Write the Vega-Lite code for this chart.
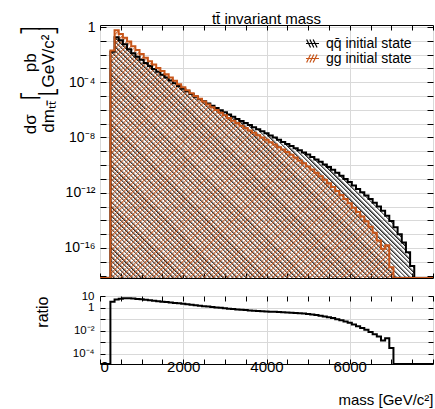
{
"$schema": "https://vega.github.io/schema/vega-lite/v6.json",
"padding": {"left": 20, "top": 11, "right": 0, "bottom": 0},
"datasets": {
"qq": [{"m":0,"v":0},{"m":250,"v":1.6e-2},{"m":350,"v":1.78e-1},{"m":450,"v":1.12e-1},{"m":550,"v":5.6e-2},{"m":650,"v":2.5e-2},{"m":750,"v":1.26e-2},{"m":850,"v":7.1e-3},{"m":950,"v":4.2e-3},{"m":1050,"v":2.5e-3},{"m":1150,"v":1.51e-3},{"m":1250,"v":9.3e-4},{"m":1350,"v":5.75e-4},{"m":1450,"v":3.55e-4},{"m":1550,"v":2.19e-4},{"m":1650,"v":1.35e-4},{"m":1750,"v":8.5e-5},{"m":1850,"v":5.4e-5},{"m":1950,"v":3.4e-5},{"m":2050,"v":2.19e-5},{"m":2150,"v":1.41e-5},{"m":2250,"v":8.9e-6},{"m":2350,"v":6.0e-6},{"m":2450,"v":4.2e-6},{"m":2550,"v":2.9e-6},{"m":2650,"v":2.0e-6},{"m":2750,"v":1.38e-6},{"m":2850,"v":9.5e-7},{"m":2950,"v":6.6e-7},{"m":3050,"v":4.6e-7},{"m":3150,"v":3.2e-7},{"m":3250,"v":2.19e-7},{"m":3350,"v":1.58e-7},{"m":3450,"v":1.12e-7},{"m":3550,"v":7.9e-8},{"m":3650,"v":5.6e-8},{"m":3750,"v":4.0e-8},{"m":3850,"v":2.8e-8},{"m":3950,"v":2.0e-8},{"m":4050,"v":1.41e-8},{"m":4150,"v":1.0e-8},{"m":4250,"v":6.8e-9},{"m":4350,"v":4.7e-9},{"m":4450,"v":3.4e-9},{"m":4550,"v":2.4e-9},{"m":4650,"v":1.7e-9},{"m":4750,"v":1.2e-9},{"m":4850,"v":8.3e-10},{"m":4950,"v":5.8e-10},{"m":5050,"v":3.9e-10},{"m":5150,"v":2.6e-10},{"m":5250,"v":1.74e-10},{"m":5350,"v":1.12e-10},{"m":5450,"v":7.2e-11},{"m":5550,"v":4.6e-11},{"m":5650,"v":2.8e-11},{"m":5750,"v":1.7e-11},{"m":5850,"v":1.0e-11},{"m":5950,"v":5.9e-12},{"m":6050,"v":3.4e-12},{"m":6150,"v":1.9e-12},{"m":6250,"v":1.07e-12},{"m":6350,"v":6.3e-13},{"m":6450,"v":3.5e-13},{"m":6550,"v":1.9e-13},{"m":6650,"v":1.0e-13},{"m":6750,"v":5.0e-14},{"m":6850,"v":2.2e-14},{"m":6950,"v":8.9e-15},{"m":7050,"v":3.2e-15},{"m":7150,"v":1.0e-15},{"m":7250,"v":2.5e-16},{"m":7350,"v":5.0e-17},{"m":7450,"v":5.0e-18},{"m":7550,"v":0},{"m":8000,"v":0}],
"gg": [{"m":0,"v":0},{"m":250,"v":2.0e-2},{"m":350,"v":5.75e-1},{"m":450,"v":3.16e-1},{"m":550,"v":1.7e-1},{"m":650,"v":8.9e-2},{"m":750,"v":4.0e-2},{"m":850,"v":2.14e-2},{"m":950,"v":1.12e-2},{"m":1050,"v":6.0e-3},{"m":1150,"v":3.3e-3},{"m":1250,"v":1.9e-3},{"m":1350,"v":1.1e-3},{"m":1450,"v":6.5e-4},{"m":1550,"v":3.8e-4},{"m":1650,"v":2.19e-4},{"m":1750,"v":1.26e-4},{"m":1850,"v":7.2e-5},{"m":1950,"v":4.3e-5},{"m":2050,"v":2.6e-5},{"m":2150,"v":1.62e-5},{"m":2250,"v":1.0e-5},{"m":2350,"v":6.3e-6},{"m":2450,"v":4.0e-6},{"m":2550,"v":2.5e-6},{"m":2650,"v":1.58e-6},{"m":2750,"v":1.0e-6},{"m":2850,"v":6.3e-7},{"m":2950,"v":4.0e-7},{"m":3050,"v":2.6e-7},{"m":3150,"v":1.66e-7},{"m":3250,"v":1.1e-7},{"m":3350,"v":7.2e-8},{"m":3450,"v":4.8e-8},{"m":3550,"v":3.2e-8},{"m":3650,"v":2.19e-8},{"m":3750,"v":1.48e-8},{"m":3850,"v":1.0e-8},{"m":3950,"v":6.8e-9},{"m":4050,"v":4.6e-9},{"m":4150,"v":3.1e-9},{"m":4250,"v":2.0e-9},{"m":4350,"v":1.35e-9},{"m":4450,"v":8.9e-10},{"m":4550,"v":5.75e-10},{"m":4650,"v":3.6e-10},{"m":4750,"v":2.2e-10},{"m":4850,"v":1.35e-10},{"m":4950,"v":8.1e-11},{"m":5050,"v":4.8e-11},{"m":5150,"v":2.75e-11},{"m":5250,"v":1.55e-11},{"m":5350,"v":8.7e-12},{"m":5450,"v":4.8e-12},{"m":5550,"v":2.6e-12},{"m":5650,"v":1.35e-12},{"m":5750,"v":6.9e-13},{"m":5850,"v":3.5e-13},{"m":5950,"v":1.7e-13},{"m":6050,"v":8.3e-14},{"m":6150,"v":4.0e-14},{"m":6250,"v":1.9e-14},{"m":6350,"v":8.7e-15},{"m":6450,"v":3.5e-15},{"m":6550,"v":1.26e-15},{"m":6650,"v":3.5e-16},{"m":6750,"v":8.9e-17},{"m":6850,"v":1.58e-16},{"m":6950,"v":4.0e-18},{"m":7050,"v":0},{"m":8000,"v":0}],
"ratio": [{"m":0,"r":0},{"m":250,"r":3.3},{"m":350,"r":5.2},{"m":450,"r":6.2},{"m":550,"r":6.6},{"m":650,"r":6.6},{"m":750,"r":6.3},{"m":850,"r":5.9},{"m":950,"r":5.4},{"m":1050,"r":4.9},{"m":1150,"r":4.5},{"m":1250,"r":4.1},{"m":1350,"r":3.7},{"m":1450,"r":3.4},{"m":1550,"r":3.1},{"m":1650,"r":2.9},{"m":1750,"r":2.6},{"m":1850,"r":2.45},{"m":1950,"r":2.24},{"m":2050,"r":2.04},{"m":2150,"r":1.86},{"m":2250,"r":1.66},{"m":2350,"r":1.51},{"m":2450,"r":1.38},{"m":2550,"r":1.26},{"m":2650,"r":1.17},{"m":2750,"r":1.07},{"m":2850,"r":1.0},{"m":2950,"r":0.91},{"m":3050,"r":0.83},{"m":3150,"r":0.78},{"m":3250,"r":0.72},{"m":3350,"r":0.68},{"m":3450,"r":0.63},{"m":3550,"r":0.59},{"m":3650,"r":0.55},{"m":3750,"r":0.52},{"m":3850,"r":0.5},{"m":3950,"r":0.48},{"m":4050,"r":0.46},{"m":4150,"r":0.45},{"m":4250,"r":0.43},{"m":4350,"r":0.41},{"m":4450,"r":0.39},{"m":4550,"r":0.37},{"m":4650,"r":0.35},{"m":4750,"r":0.33},{"m":4850,"r":0.31},{"m":4950,"r":0.28},{"m":5050,"r":0.26},{"m":5150,"r":0.23},{"m":5250,"r":0.2},{"m":5350,"r":0.17},{"m":5450,"r":0.148},{"m":5550,"r":0.126},{"m":5650,"r":0.102},{"m":5750,"r":0.083},{"m":5850,"r":0.065},{"m":5950,"r":0.049},{"m":6050,"r":0.035},{"m":6150,"r":0.025},{"m":6250,"r":0.0174},{"m":6350,"r":0.012},{"m":6450,"r":0.0079},{"m":6550,"r":0.005},{"m":6650,"r":0.0032},{"m":6750,"r":0.0014},{"m":6850,"r":0.0022},{"m":6950,"r":0.00032},{"m":7050,"r":0},{"m":8000,"r":0}]
},
"spacing": 18,
"bounds": "flush",
"vconcat": [
{
"width": 333, "height": 253,
"title": {"text": "tt\u0304 invariant mass", "anchor": "middle", "frame": "group", "offset": -7, "fontSize": 15},
"layer": [
{"data": {"name": "qq"},
 "mark": {"type": "area", "interpolate": "step-after", "clip": true,
   "fill": {"gradient": "linear", "x1": 0, "y1": 1, "x2": 0.3833, "y2": 0.723, "stops": [
{"offset":0,"color":"#2220"},{"offset":0,"color":"#222"},{"offset":0.0156,"color":"#2220"},
{"offset":0.0234,"color":"#2220"},{"offset":0.0234,"color":"#222"},{"offset":0.0391,"color":"#2220"},
{"offset":0.0469,"color":"#2220"},{"offset":0.0469,"color":"#222"},{"offset":0.0625,"color":"#2220"},
{"offset":0.0703,"color":"#2220"},{"offset":0.0703,"color":"#222"},{"offset":0.0859,"color":"#2220"},
{"offset":0.0938,"color":"#2220"},{"offset":0.0938,"color":"#222"},{"offset":0.1094,"color":"#2220"},
{"offset":0.1172,"color":"#2220"},{"offset":0.1172,"color":"#222"},{"offset":0.1328,"color":"#2220"},
{"offset":0.1406,"color":"#2220"},{"offset":0.1406,"color":"#222"},{"offset":0.1563,"color":"#2220"},
{"offset":0.1641,"color":"#2220"},{"offset":0.1641,"color":"#222"},{"offset":0.1797,"color":"#2220"},
{"offset":0.1875,"color":"#2220"},{"offset":0.1875,"color":"#222"},{"offset":0.2031,"color":"#2220"},
{"offset":0.2109,"color":"#2220"},{"offset":0.2109,"color":"#222"},{"offset":0.2266,"color":"#2220"},
{"offset":0.2344,"color":"#2220"},{"offset":0.2344,"color":"#222"},{"offset":0.25,"color":"#2220"},
{"offset":0.2578,"color":"#2220"},{"offset":0.2578,"color":"#222"},{"offset":0.2734,"color":"#2220"},
{"offset":0.2813,"color":"#2220"},{"offset":0.2813,"color":"#222"},{"offset":0.2969,"color":"#2220"},
{"offset":0.3047,"color":"#2220"},{"offset":0.3047,"color":"#222"},{"offset":0.3203,"color":"#2220"},
{"offset":0.3281,"color":"#2220"},{"offset":0.3281,"color":"#222"},{"offset":0.3438,"color":"#2220"},
{"offset":0.3516,"color":"#2220"},{"offset":0.3516,"color":"#222"},{"offset":0.3672,"color":"#2220"},
{"offset":0.375,"color":"#2220"},{"offset":0.375,"color":"#222"},{"offset":0.3906,"color":"#2220"},
{"offset":0.3984,"color":"#2220"},{"offset":0.3984,"color":"#222"},{"offset":0.4141,"color":"#2220"},
{"offset":0.4219,"color":"#2220"},{"offset":0.4219,"color":"#222"},{"offset":0.4375,"color":"#2220"},
{"offset":0.4453,"color":"#2220"},{"offset":0.4453,"color":"#222"},{"offset":0.4609,"color":"#2220"},
{"offset":0.4688,"color":"#2220"},{"offset":0.4688,"color":"#222"},{"offset":0.4844,"color":"#2220"},
{"offset":0.4922,"color":"#2220"},{"offset":0.4922,"color":"#222"},{"offset":0.5078,"color":"#2220"},
{"offset":0.5156,"color":"#2220"},{"offset":0.5156,"color":"#222"},{"offset":0.5313,"color":"#2220"},
{"offset":0.5391,"color":"#2220"},{"offset":0.5391,"color":"#222"},{"offset":0.5547,"color":"#2220"},
{"offset":0.5625,"color":"#2220"},{"offset":0.5625,"color":"#222"},{"offset":0.5781,"color":"#2220"},
{"offset":0.5859,"color":"#2220"},{"offset":0.5859,"color":"#222"},{"offset":0.6016,"color":"#2220"},
{"offset":0.6094,"color":"#2220"},{"offset":0.6094,"color":"#222"},{"offset":0.625,"color":"#2220"},
{"offset":0.6328,"color":"#2220"},{"offset":0.6328,"color":"#222"},{"offset":0.6484,"color":"#2220"},
{"offset":0.6563,"color":"#2220"},{"offset":0.6563,"color":"#222"},{"offset":0.6719,"color":"#2220"},
{"offset":0.6797,"color":"#2220"},{"offset":0.6797,"color":"#222"},{"offset":0.6953,"color":"#2220"},
{"offset":0.7031,"color":"#2220"},{"offset":0.7031,"color":"#222"},{"offset":0.7188,"color":"#2220"},
{"offset":0.7266,"color":"#2220"},{"offset":0.7266,"color":"#222"},{"offset":0.7422,"color":"#2220"},
{"offset":0.75,"color":"#2220"},{"offset":0.75,"color":"#222"},{"offset":0.7656,"color":"#2220"},
{"offset":0.7734,"color":"#2220"},{"offset":0.7734,"color":"#222"},{"offset":0.7891,"color":"#2220"},
{"offset":0.7969,"color":"#2220"},{"offset":0.7969,"color":"#222"},{"offset":0.8125,"color":"#2220"},
{"offset":0.8203,"color":"#2220"},{"offset":0.8203,"color":"#222"},{"offset":0.8359,"color":"#2220"},
{"offset":0.8438,"color":"#2220"},{"offset":0.8438,"color":"#222"},{"offset":0.8594,"color":"#2220"},
{"offset":0.8672,"color":"#2220"},{"offset":0.8672,"color":"#222"},{"offset":0.8828,"color":"#2220"},
{"offset":0.8906,"color":"#2220"},{"offset":0.8906,"color":"#222"},{"offset":0.9063,"color":"#2220"},
{"offset":0.9141,"color":"#2220"},{"offset":0.9141,"color":"#222"},{"offset":0.9297,"color":"#2220"},
{"offset":0.9375,"color":"#2220"},{"offset":0.9375,"color":"#222"},{"offset":0.9531,"color":"#2220"},
{"offset":0.9609,"color":"#2220"},{"offset":0.9609,"color":"#222"},{"offset":0.9766,"color":"#2220"}
   ]}},
 "encoding": {
  "x": {"field": "m", "type": "quantitative", "scale": {"domain": [0, 8000], "nice": false, "zero": false},
        "axis": {"orient": "bottom", "values": [0,500,1000,1500,2000,2500,3000,3500,4000,4500,5000,5500,6000,6500,7000,7500,8000], "labels": false, "tickSize": -5, "grid": true, "gridOpacity": {"condition": {"test": "datum.value % 2000 === 0", "value": 1}, "value": 0}, "title": null}},
  "y": {"field": "v", "type": "quantitative", "scale": {"type": "log", "domain": [6.7e-19, 1.4], "nice": false, "clamp": true},
        "axis": {"orient": "left", "values": [1,0.1,0.01,0.001,1e-4,1e-5,1e-6,1e-7,1e-8,1e-9,1e-10,1e-11,1e-12,1e-13,1e-14,1e-15,1e-16,1e-17,1e-18], "tickSize": -6, "labelPadding": 11, "labelOverlap": false, "grid": true,
          "labelExpr": "round(log(datum.value)/LN10) == 0 ? '1' : round(log(datum.value)/LN10) == -4 ? '10\u207b\u2074' : round(log(datum.value)/LN10) == -8 ? '10\u207b\u2078' : round(log(datum.value)/LN10) == -12 ? '10\u207b\u00b9\u00b2' : round(log(datum.value)/LN10) == -16 ? '10\u207b\u00b9\u2076' : ''",
          "minExtent": 42, "maxExtent": 42,
          "title": ["d\u03c3\u00a0\u00a0\u00a0\u23a1\u00a0\u00a0\u00a0\u00a0pb\u00a0\u00a0\u00a0\u00a0\u23a4", "dm\u209c\u209c\u0304\u00a0\u23a3GeV/c\u00b2\u23a6"],
          "titleAnchor": "end", "titlePadding": 1, "titleFontSize": 17, "titleLineHeight": 18}}
 }},
{"data": {"name": "qq"},
 "mark": {"type": "area", "interpolate": "step-after", "clip": true,
   "fill": {"gradient": "linear", "x1": 0.3773, "y1": 0.7274, "x2": 0.7606, "y2": 0.4504, "stops": [
{"offset":0,"color":"#2220"},{"offset":0,"color":"#222"},{"offset":0.0156,"color":"#2220"},
{"offset":0.0234,"color":"#2220"},{"offset":0.0234,"color":"#222"},{"offset":0.0391,"color":"#2220"},
{"offset":0.0469,"color":"#2220"},{"offset":0.0469,"color":"#222"},{"offset":0.0625,"color":"#2220"},
{"offset":0.0703,"color":"#2220"},{"offset":0.0703,"color":"#222"},{"offset":0.0859,"color":"#2220"},
{"offset":0.0938,"color":"#2220"},{"offset":0.0938,"color":"#222"},{"offset":0.1094,"color":"#2220"},
{"offset":0.1172,"color":"#2220"},{"offset":0.1172,"color":"#222"},{"offset":0.1328,"color":"#2220"},
{"offset":0.1406,"color":"#2220"},{"offset":0.1406,"color":"#222"},{"offset":0.1563,"color":"#2220"},
{"offset":0.1641,"color":"#2220"},{"offset":0.1641,"color":"#222"},{"offset":0.1797,"color":"#2220"},
{"offset":0.1875,"color":"#2220"},{"offset":0.1875,"color":"#222"},{"offset":0.2031,"color":"#2220"},
{"offset":0.2109,"color":"#2220"},{"offset":0.2109,"color":"#222"},{"offset":0.2266,"color":"#2220"},
{"offset":0.2344,"color":"#2220"},{"offset":0.2344,"color":"#222"},{"offset":0.25,"color":"#2220"},
{"offset":0.2578,"color":"#2220"},{"offset":0.2578,"color":"#222"},{"offset":0.2734,"color":"#2220"},
{"offset":0.2813,"color":"#2220"},{"offset":0.2813,"color":"#222"},{"offset":0.2969,"color":"#2220"},
{"offset":0.3047,"color":"#2220"},{"offset":0.3047,"color":"#222"},{"offset":0.3203,"color":"#2220"},
{"offset":0.3281,"color":"#2220"},{"offset":0.3281,"color":"#222"},{"offset":0.3438,"color":"#2220"},
{"offset":0.3516,"color":"#2220"},{"offset":0.3516,"color":"#222"},{"offset":0.3672,"color":"#2220"},
{"offset":0.375,"color":"#2220"},{"offset":0.375,"color":"#222"},{"offset":0.3906,"color":"#2220"},
{"offset":0.3984,"color":"#2220"},{"offset":0.3984,"color":"#222"},{"offset":0.4141,"color":"#2220"},
{"offset":0.4219,"color":"#2220"},{"offset":0.4219,"color":"#222"},{"offset":0.4375,"color":"#2220"},
{"offset":0.4453,"color":"#2220"},{"offset":0.4453,"color":"#222"},{"offset":0.4609,"color":"#2220"},
{"offset":0.4688,"color":"#2220"},{"offset":0.4688,"color":"#222"},{"offset":0.4844,"color":"#2220"},
{"offset":0.4922,"color":"#2220"},{"offset":0.4922,"color":"#222"},{"offset":0.5078,"color":"#2220"},
{"offset":0.5156,"color":"#2220"},{"offset":0.5156,"color":"#222"},{"offset":0.5313,"color":"#2220"},
{"offset":0.5391,"color":"#2220"},{"offset":0.5391,"color":"#222"},{"offset":0.5547,"color":"#2220"},
{"offset":0.5625,"color":"#2220"},{"offset":0.5625,"color":"#222"},{"offset":0.5781,"color":"#2220"},
{"offset":0.5859,"color":"#2220"},{"offset":0.5859,"color":"#222"},{"offset":0.6016,"color":"#2220"},
{"offset":0.6094,"color":"#2220"},{"offset":0.6094,"color":"#222"},{"offset":0.625,"color":"#2220"},
{"offset":0.6328,"color":"#2220"},{"offset":0.6328,"color":"#222"},{"offset":0.6484,"color":"#2220"},
{"offset":0.6563,"color":"#2220"},{"offset":0.6563,"color":"#222"},{"offset":0.6719,"color":"#2220"},
{"offset":0.6797,"color":"#2220"},{"offset":0.6797,"color":"#222"},{"offset":0.6953,"color":"#2220"},
{"offset":0.7031,"color":"#2220"},{"offset":0.7031,"color":"#222"},{"offset":0.7188,"color":"#2220"},
{"offset":0.7266,"color":"#2220"},{"offset":0.7266,"color":"#222"},{"offset":0.7422,"color":"#2220"},
{"offset":0.75,"color":"#2220"},{"offset":0.75,"color":"#222"},{"offset":0.7656,"color":"#2220"},
{"offset":0.7734,"color":"#2220"},{"offset":0.7734,"color":"#222"},{"offset":0.7891,"color":"#2220"},
{"offset":0.7969,"color":"#2220"},{"offset":0.7969,"color":"#222"},{"offset":0.8125,"color":"#2220"},
{"offset":0.8203,"color":"#2220"},{"offset":0.8203,"color":"#222"},{"offset":0.8359,"color":"#2220"},
{"offset":0.8438,"color":"#2220"},{"offset":0.8438,"color":"#222"},{"offset":0.8594,"color":"#2220"},
{"offset":0.8672,"color":"#2220"},{"offset":0.8672,"color":"#222"},{"offset":0.8828,"color":"#2220"},
{"offset":0.8906,"color":"#2220"},{"offset":0.8906,"color":"#222"},{"offset":0.9063,"color":"#2220"},
{"offset":0.9141,"color":"#2220"},{"offset":0.9141,"color":"#222"},{"offset":0.9297,"color":"#2220"},
{"offset":0.9375,"color":"#2220"},{"offset":0.9375,"color":"#222"},{"offset":0.9531,"color":"#2220"},
{"offset":0.9609,"color":"#2220"},{"offset":0.9609,"color":"#222"},{"offset":0.9766,"color":"#2220"}
   ]}},
 "encoding": {"x": {"field": "m", "type": "quantitative", "axis": null}, "y": {"field": "v", "type": "quantitative", "axis": null}}},
{"data": {"name": "qq"},
 "mark": {"type": "area", "interpolate": "step-after", "clip": true,
   "fill": {"gradient": "linear", "x1": 0.7546, "y1": 0.4548, "x2": 1.1379, "y2": 0.1778, "stops": [
{"offset":0,"color":"#2220"},{"offset":0,"color":"#222"},{"offset":0.0156,"color":"#2220"},
{"offset":0.0234,"color":"#2220"},{"offset":0.0234,"color":"#222"},{"offset":0.0391,"color":"#2220"},
{"offset":0.0469,"color":"#2220"},{"offset":0.0469,"color":"#222"},{"offset":0.0625,"color":"#2220"},
{"offset":0.0703,"color":"#2220"},{"offset":0.0703,"color":"#222"},{"offset":0.0859,"color":"#2220"},
{"offset":0.0938,"color":"#2220"},{"offset":0.0938,"color":"#222"},{"offset":0.1094,"color":"#2220"},
{"offset":0.1172,"color":"#2220"},{"offset":0.1172,"color":"#222"},{"offset":0.1328,"color":"#2220"},
{"offset":0.1406,"color":"#2220"},{"offset":0.1406,"color":"#222"},{"offset":0.1563,"color":"#2220"},
{"offset":0.1641,"color":"#2220"},{"offset":0.1641,"color":"#222"},{"offset":0.1797,"color":"#2220"},
{"offset":0.1875,"color":"#2220"},{"offset":0.1875,"color":"#222"},{"offset":0.2031,"color":"#2220"},
{"offset":0.2109,"color":"#2220"},{"offset":0.2109,"color":"#222"},{"offset":0.2266,"color":"#2220"},
{"offset":0.2344,"color":"#2220"},{"offset":0.2344,"color":"#222"},{"offset":0.25,"color":"#2220"},
{"offset":0.2578,"color":"#2220"},{"offset":0.2578,"color":"#222"},{"offset":0.2734,"color":"#2220"},
{"offset":0.2813,"color":"#2220"},{"offset":0.2813,"color":"#222"},{"offset":0.2969,"color":"#2220"},
{"offset":0.3047,"color":"#2220"},{"offset":0.3047,"color":"#222"},{"offset":0.3203,"color":"#2220"},
{"offset":0.3281,"color":"#2220"},{"offset":0.3281,"color":"#222"},{"offset":0.3438,"color":"#2220"},
{"offset":0.3516,"color":"#2220"},{"offset":0.3516,"color":"#222"},{"offset":0.3672,"color":"#2220"},
{"offset":0.375,"color":"#2220"},{"offset":0.375,"color":"#222"},{"offset":0.3906,"color":"#2220"},
{"offset":0.3984,"color":"#2220"},{"offset":0.3984,"color":"#222"},{"offset":0.4141,"color":"#2220"},
{"offset":0.4219,"color":"#2220"},{"offset":0.4219,"color":"#222"},{"offset":0.4375,"color":"#2220"},
{"offset":0.4453,"color":"#2220"},{"offset":0.4453,"color":"#222"},{"offset":0.4609,"color":"#2220"},
{"offset":0.4688,"color":"#2220"},{"offset":0.4688,"color":"#222"},{"offset":0.4844,"color":"#2220"},
{"offset":0.4922,"color":"#2220"},{"offset":0.4922,"color":"#222"},{"offset":0.5078,"color":"#2220"},
{"offset":0.5156,"color":"#2220"},{"offset":0.5156,"color":"#222"},{"offset":0.5313,"color":"#2220"},
{"offset":0.5391,"color":"#2220"},{"offset":0.5391,"color":"#222"},{"offset":0.5547,"color":"#2220"},
{"offset":0.5625,"color":"#2220"},{"offset":0.5625,"color":"#222"},{"offset":0.5781,"color":"#2220"},
{"offset":0.5859,"color":"#2220"},{"offset":0.5859,"color":"#222"},{"offset":0.6016,"color":"#2220"},
{"offset":0.6094,"color":"#2220"},{"offset":0.6094,"color":"#222"},{"offset":0.625,"color":"#2220"},
{"offset":0.6328,"color":"#2220"},{"offset":0.6328,"color":"#222"},{"offset":0.6484,"color":"#2220"},
{"offset":0.6563,"color":"#2220"},{"offset":0.6563,"color":"#222"},{"offset":0.6719,"color":"#2220"},
{"offset":0.6797,"color":"#2220"},{"offset":0.6797,"color":"#222"},{"offset":0.6953,"color":"#2220"},
{"offset":0.7031,"color":"#2220"},{"offset":0.7031,"color":"#222"},{"offset":0.7188,"color":"#2220"},
{"offset":0.7266,"color":"#2220"},{"offset":0.7266,"color":"#222"},{"offset":0.7422,"color":"#2220"},
{"offset":0.75,"color":"#2220"},{"offset":0.75,"color":"#222"},{"offset":0.7656,"color":"#2220"},
{"offset":0.7734,"color":"#2220"},{"offset":0.7734,"color":"#222"},{"offset":0.7891,"color":"#2220"},
{"offset":0.7969,"color":"#2220"},{"offset":0.7969,"color":"#222"},{"offset":0.8125,"color":"#2220"},
{"offset":0.8203,"color":"#2220"},{"offset":0.8203,"color":"#222"},{"offset":0.8359,"color":"#2220"},
{"offset":0.8438,"color":"#2220"},{"offset":0.8438,"color":"#222"},{"offset":0.8594,"color":"#2220"},
{"offset":0.8672,"color":"#2220"},{"offset":0.8672,"color":"#222"},{"offset":0.8828,"color":"#2220"},
{"offset":0.8906,"color":"#2220"},{"offset":0.8906,"color":"#222"},{"offset":0.9063,"color":"#2220"},
{"offset":0.9141,"color":"#2220"},{"offset":0.9141,"color":"#222"},{"offset":0.9297,"color":"#2220"},
{"offset":0.9375,"color":"#2220"},{"offset":0.9375,"color":"#222"},{"offset":0.9531,"color":"#2220"},
{"offset":0.9609,"color":"#2220"},{"offset":0.9609,"color":"#222"},{"offset":0.9766,"color":"#2220"}
   ]}},
 "encoding": {"x": {"field": "m", "type": "quantitative", "axis": null}, "y": {"field": "v", "type": "quantitative", "axis": null}}},
{"data": {"name": "gg"},
 "mark": {"type": "area", "interpolate": "step-after", "clip": true,
   "fill": {"gradient": "linear", "x1": 0, "y1": 0, "x2": 0.3802, "y2": 0.2828, "stops": [
{"offset":0,"color":"#c8561a00"},{"offset":0,"color":"#c8561acc"},{"offset":0.0156,"color":"#c8561a00"},
{"offset":0.0234,"color":"#c8561a00"},{"offset":0.0234,"color":"#c8561acc"},{"offset":0.0391,"color":"#c8561a00"},
{"offset":0.0469,"color":"#c8561a00"},{"offset":0.0469,"color":"#c8561acc"},{"offset":0.0625,"color":"#c8561a00"},
{"offset":0.0703,"color":"#c8561a00"},{"offset":0.0703,"color":"#c8561acc"},{"offset":0.0859,"color":"#c8561a00"},
{"offset":0.0938,"color":"#c8561a00"},{"offset":0.0938,"color":"#c8561acc"},{"offset":0.1094,"color":"#c8561a00"},
{"offset":0.1172,"color":"#c8561a00"},{"offset":0.1172,"color":"#c8561acc"},{"offset":0.1328,"color":"#c8561a00"},
{"offset":0.1406,"color":"#c8561a00"},{"offset":0.1406,"color":"#c8561acc"},{"offset":0.1563,"color":"#c8561a00"},
{"offset":0.1641,"color":"#c8561a00"},{"offset":0.1641,"color":"#c8561acc"},{"offset":0.1797,"color":"#c8561a00"},
{"offset":0.1875,"color":"#c8561a00"},{"offset":0.1875,"color":"#c8561acc"},{"offset":0.2031,"color":"#c8561a00"},
{"offset":0.2109,"color":"#c8561a00"},{"offset":0.2109,"color":"#c8561acc"},{"offset":0.2266,"color":"#c8561a00"},
{"offset":0.2344,"color":"#c8561a00"},{"offset":0.2344,"color":"#c8561acc"},{"offset":0.25,"color":"#c8561a00"},
{"offset":0.2578,"color":"#c8561a00"},{"offset":0.2578,"color":"#c8561acc"},{"offset":0.2734,"color":"#c8561a00"},
{"offset":0.2813,"color":"#c8561a00"},{"offset":0.2813,"color":"#c8561acc"},{"offset":0.2969,"color":"#c8561a00"},
{"offset":0.3047,"color":"#c8561a00"},{"offset":0.3047,"color":"#c8561acc"},{"offset":0.3203,"color":"#c8561a00"},
{"offset":0.3281,"color":"#c8561a00"},{"offset":0.3281,"color":"#c8561acc"},{"offset":0.3438,"color":"#c8561a00"},
{"offset":0.3516,"color":"#c8561a00"},{"offset":0.3516,"color":"#c8561acc"},{"offset":0.3672,"color":"#c8561a00"},
{"offset":0.375,"color":"#c8561a00"},{"offset":0.375,"color":"#c8561acc"},{"offset":0.3906,"color":"#c8561a00"},
{"offset":0.3984,"color":"#c8561a00"},{"offset":0.3984,"color":"#c8561acc"},{"offset":0.4141,"color":"#c8561a00"},
{"offset":0.4219,"color":"#c8561a00"},{"offset":0.4219,"color":"#c8561acc"},{"offset":0.4375,"color":"#c8561a00"},
{"offset":0.4453,"color":"#c8561a00"},{"offset":0.4453,"color":"#c8561acc"},{"offset":0.4609,"color":"#c8561a00"},
{"offset":0.4688,"color":"#c8561a00"},{"offset":0.4688,"color":"#c8561acc"},{"offset":0.4844,"color":"#c8561a00"},
{"offset":0.4922,"color":"#c8561a00"},{"offset":0.4922,"color":"#c8561acc"},{"offset":0.5078,"color":"#c8561a00"},
{"offset":0.5156,"color":"#c8561a00"},{"offset":0.5156,"color":"#c8561acc"},{"offset":0.5313,"color":"#c8561a00"},
{"offset":0.5391,"color":"#c8561a00"},{"offset":0.5391,"color":"#c8561acc"},{"offset":0.5547,"color":"#c8561a00"},
{"offset":0.5625,"color":"#c8561a00"},{"offset":0.5625,"color":"#c8561acc"},{"offset":0.5781,"color":"#c8561a00"},
{"offset":0.5859,"color":"#c8561a00"},{"offset":0.5859,"color":"#c8561acc"},{"offset":0.6016,"color":"#c8561a00"},
{"offset":0.6094,"color":"#c8561a00"},{"offset":0.6094,"color":"#c8561acc"},{"offset":0.625,"color":"#c8561a00"},
{"offset":0.6328,"color":"#c8561a00"},{"offset":0.6328,"color":"#c8561acc"},{"offset":0.6484,"color":"#c8561a00"},
{"offset":0.6563,"color":"#c8561a00"},{"offset":0.6563,"color":"#c8561acc"},{"offset":0.6719,"color":"#c8561a00"},
{"offset":0.6797,"color":"#c8561a00"},{"offset":0.6797,"color":"#c8561acc"},{"offset":0.6953,"color":"#c8561a00"},
{"offset":0.7031,"color":"#c8561a00"},{"offset":0.7031,"color":"#c8561acc"},{"offset":0.7188,"color":"#c8561a00"},
{"offset":0.7266,"color":"#c8561a00"},{"offset":0.7266,"color":"#c8561acc"},{"offset":0.7422,"color":"#c8561a00"},
{"offset":0.75,"color":"#c8561a00"},{"offset":0.75,"color":"#c8561acc"},{"offset":0.7656,"color":"#c8561a00"},
{"offset":0.7734,"color":"#c8561a00"},{"offset":0.7734,"color":"#c8561acc"},{"offset":0.7891,"color":"#c8561a00"},
{"offset":0.7969,"color":"#c8561a00"},{"offset":0.7969,"color":"#c8561acc"},{"offset":0.8125,"color":"#c8561a00"},
{"offset":0.8203,"color":"#c8561a00"},{"offset":0.8203,"color":"#c8561acc"},{"offset":0.8359,"color":"#c8561a00"},
{"offset":0.8438,"color":"#c8561a00"},{"offset":0.8438,"color":"#c8561acc"},{"offset":0.8594,"color":"#c8561a00"},
{"offset":0.8672,"color":"#c8561a00"},{"offset":0.8672,"color":"#c8561acc"},{"offset":0.8828,"color":"#c8561a00"},
{"offset":0.8906,"color":"#c8561a00"},{"offset":0.8906,"color":"#c8561acc"},{"offset":0.9063,"color":"#c8561a00"},
{"offset":0.9141,"color":"#c8561a00"},{"offset":0.9141,"color":"#c8561acc"},{"offset":0.9297,"color":"#c8561a00"},
{"offset":0.9375,"color":"#c8561a00"},{"offset":0.9375,"color":"#c8561acc"},{"offset":0.9531,"color":"#c8561a00"},
{"offset":0.9609,"color":"#c8561a00"},{"offset":0.9609,"color":"#c8561acc"},{"offset":0.9766,"color":"#c8561a00"}
   ]}},
 "encoding": {
  "x": {"field": "m", "type": "quantitative", "scale": {"domain": [0, 8000], "nice": false, "zero": false},
        "axis": {"orient": "top", "values": [0,500,1000,1500,2000,2500,3000,3500,4000,4500,5000,5500,6000,6500,7000,7500,8000], "labels": false, "tickSize": -5, "grid": false, "title": null}},
  "y": {"field": "v", "type": "quantitative", "scale": {"type": "log", "domain": [6.7e-19, 1.4], "nice": false, "clamp": true},
        "axis": {"orient": "right", "values": [1,0.1,0.01,0.001,1e-4,1e-5,1e-6,1e-7,1e-8,1e-9,1e-10,1e-11,1e-12,1e-13,1e-14,1e-15,1e-16,1e-17,1e-18], "labels": false, "tickSize": -6, "grid": false, "title": null}}
 }},
{"data": {"name": "gg"},
 "mark": {"type": "area", "interpolate": "step-after", "clip": true,
   "fill": {"gradient": "linear", "x1": 0.3743, "y1": 0.2784, "x2": 0.7545, "y2": 0.5612, "stops": [
{"offset":0,"color":"#c8561a00"},{"offset":0,"color":"#c8561acc"},{"offset":0.0156,"color":"#c8561a00"},
{"offset":0.0234,"color":"#c8561a00"},{"offset":0.0234,"color":"#c8561acc"},{"offset":0.0391,"color":"#c8561a00"},
{"offset":0.0469,"color":"#c8561a00"},{"offset":0.0469,"color":"#c8561acc"},{"offset":0.0625,"color":"#c8561a00"},
{"offset":0.0703,"color":"#c8561a00"},{"offset":0.0703,"color":"#c8561acc"},{"offset":0.0859,"color":"#c8561a00"},
{"offset":0.0938,"color":"#c8561a00"},{"offset":0.0938,"color":"#c8561acc"},{"offset":0.1094,"color":"#c8561a00"},
{"offset":0.1172,"color":"#c8561a00"},{"offset":0.1172,"color":"#c8561acc"},{"offset":0.1328,"color":"#c8561a00"},
{"offset":0.1406,"color":"#c8561a00"},{"offset":0.1406,"color":"#c8561acc"},{"offset":0.1563,"color":"#c8561a00"},
{"offset":0.1641,"color":"#c8561a00"},{"offset":0.1641,"color":"#c8561acc"},{"offset":0.1797,"color":"#c8561a00"},
{"offset":0.1875,"color":"#c8561a00"},{"offset":0.1875,"color":"#c8561acc"},{"offset":0.2031,"color":"#c8561a00"},
{"offset":0.2109,"color":"#c8561a00"},{"offset":0.2109,"color":"#c8561acc"},{"offset":0.2266,"color":"#c8561a00"},
{"offset":0.2344,"color":"#c8561a00"},{"offset":0.2344,"color":"#c8561acc"},{"offset":0.25,"color":"#c8561a00"},
{"offset":0.2578,"color":"#c8561a00"},{"offset":0.2578,"color":"#c8561acc"},{"offset":0.2734,"color":"#c8561a00"},
{"offset":0.2813,"color":"#c8561a00"},{"offset":0.2813,"color":"#c8561acc"},{"offset":0.2969,"color":"#c8561a00"},
{"offset":0.3047,"color":"#c8561a00"},{"offset":0.3047,"color":"#c8561acc"},{"offset":0.3203,"color":"#c8561a00"},
{"offset":0.3281,"color":"#c8561a00"},{"offset":0.3281,"color":"#c8561acc"},{"offset":0.3438,"color":"#c8561a00"},
{"offset":0.3516,"color":"#c8561a00"},{"offset":0.3516,"color":"#c8561acc"},{"offset":0.3672,"color":"#c8561a00"},
{"offset":0.375,"color":"#c8561a00"},{"offset":0.375,"color":"#c8561acc"},{"offset":0.3906,"color":"#c8561a00"},
{"offset":0.3984,"color":"#c8561a00"},{"offset":0.3984,"color":"#c8561acc"},{"offset":0.4141,"color":"#c8561a00"},
{"offset":0.4219,"color":"#c8561a00"},{"offset":0.4219,"color":"#c8561acc"},{"offset":0.4375,"color":"#c8561a00"},
{"offset":0.4453,"color":"#c8561a00"},{"offset":0.4453,"color":"#c8561acc"},{"offset":0.4609,"color":"#c8561a00"},
{"offset":0.4688,"color":"#c8561a00"},{"offset":0.4688,"color":"#c8561acc"},{"offset":0.4844,"color":"#c8561a00"},
{"offset":0.4922,"color":"#c8561a00"},{"offset":0.4922,"color":"#c8561acc"},{"offset":0.5078,"color":"#c8561a00"},
{"offset":0.5156,"color":"#c8561a00"},{"offset":0.5156,"color":"#c8561acc"},{"offset":0.5313,"color":"#c8561a00"},
{"offset":0.5391,"color":"#c8561a00"},{"offset":0.5391,"color":"#c8561acc"},{"offset":0.5547,"color":"#c8561a00"},
{"offset":0.5625,"color":"#c8561a00"},{"offset":0.5625,"color":"#c8561acc"},{"offset":0.5781,"color":"#c8561a00"},
{"offset":0.5859,"color":"#c8561a00"},{"offset":0.5859,"color":"#c8561acc"},{"offset":0.6016,"color":"#c8561a00"},
{"offset":0.6094,"color":"#c8561a00"},{"offset":0.6094,"color":"#c8561acc"},{"offset":0.625,"color":"#c8561a00"},
{"offset":0.6328,"color":"#c8561a00"},{"offset":0.6328,"color":"#c8561acc"},{"offset":0.6484,"color":"#c8561a00"},
{"offset":0.6563,"color":"#c8561a00"},{"offset":0.6563,"color":"#c8561acc"},{"offset":0.6719,"color":"#c8561a00"},
{"offset":0.6797,"color":"#c8561a00"},{"offset":0.6797,"color":"#c8561acc"},{"offset":0.6953,"color":"#c8561a00"},
{"offset":0.7031,"color":"#c8561a00"},{"offset":0.7031,"color":"#c8561acc"},{"offset":0.7188,"color":"#c8561a00"},
{"offset":0.7266,"color":"#c8561a00"},{"offset":0.7266,"color":"#c8561acc"},{"offset":0.7422,"color":"#c8561a00"},
{"offset":0.75,"color":"#c8561a00"},{"offset":0.75,"color":"#c8561acc"},{"offset":0.7656,"color":"#c8561a00"},
{"offset":0.7734,"color":"#c8561a00"},{"offset":0.7734,"color":"#c8561acc"},{"offset":0.7891,"color":"#c8561a00"},
{"offset":0.7969,"color":"#c8561a00"},{"offset":0.7969,"color":"#c8561acc"},{"offset":0.8125,"color":"#c8561a00"},
{"offset":0.8203,"color":"#c8561a00"},{"offset":0.8203,"color":"#c8561acc"},{"offset":0.8359,"color":"#c8561a00"},
{"offset":0.8438,"color":"#c8561a00"},{"offset":0.8438,"color":"#c8561acc"},{"offset":0.8594,"color":"#c8561a00"},
{"offset":0.8672,"color":"#c8561a00"},{"offset":0.8672,"color":"#c8561acc"},{"offset":0.8828,"color":"#c8561a00"},
{"offset":0.8906,"color":"#c8561a00"},{"offset":0.8906,"color":"#c8561acc"},{"offset":0.9063,"color":"#c8561a00"},
{"offset":0.9141,"color":"#c8561a00"},{"offset":0.9141,"color":"#c8561acc"},{"offset":0.9297,"color":"#c8561a00"},
{"offset":0.9375,"color":"#c8561a00"},{"offset":0.9375,"color":"#c8561acc"},{"offset":0.9531,"color":"#c8561a00"},
{"offset":0.9609,"color":"#c8561a00"},{"offset":0.9609,"color":"#c8561acc"},{"offset":0.9766,"color":"#c8561a00"}
   ]}},
 "encoding": {"x": {"field": "m", "type": "quantitative", "axis": null}, "y": {"field": "v", "type": "quantitative", "axis": null}}},
{"data": {"name": "gg"},
 "mark": {"type": "area", "interpolate": "step-after", "clip": true,
   "fill": {"gradient": "linear", "x1": 0.7485, "y1": 0.5568, "x2": 1.1287, "y2": 0.8396, "stops": [
{"offset":0,"color":"#c8561a00"},{"offset":0,"color":"#c8561acc"},{"offset":0.0156,"color":"#c8561a00"},
{"offset":0.0234,"color":"#c8561a00"},{"offset":0.0234,"color":"#c8561acc"},{"offset":0.0391,"color":"#c8561a00"},
{"offset":0.0469,"color":"#c8561a00"},{"offset":0.0469,"color":"#c8561acc"},{"offset":0.0625,"color":"#c8561a00"},
{"offset":0.0703,"color":"#c8561a00"},{"offset":0.0703,"color":"#c8561acc"},{"offset":0.0859,"color":"#c8561a00"},
{"offset":0.0938,"color":"#c8561a00"},{"offset":0.0938,"color":"#c8561acc"},{"offset":0.1094,"color":"#c8561a00"},
{"offset":0.1172,"color":"#c8561a00"},{"offset":0.1172,"color":"#c8561acc"},{"offset":0.1328,"color":"#c8561a00"},
{"offset":0.1406,"color":"#c8561a00"},{"offset":0.1406,"color":"#c8561acc"},{"offset":0.1563,"color":"#c8561a00"},
{"offset":0.1641,"color":"#c8561a00"},{"offset":0.1641,"color":"#c8561acc"},{"offset":0.1797,"color":"#c8561a00"},
{"offset":0.1875,"color":"#c8561a00"},{"offset":0.1875,"color":"#c8561acc"},{"offset":0.2031,"color":"#c8561a00"},
{"offset":0.2109,"color":"#c8561a00"},{"offset":0.2109,"color":"#c8561acc"},{"offset":0.2266,"color":"#c8561a00"},
{"offset":0.2344,"color":"#c8561a00"},{"offset":0.2344,"color":"#c8561acc"},{"offset":0.25,"color":"#c8561a00"},
{"offset":0.2578,"color":"#c8561a00"},{"offset":0.2578,"color":"#c8561acc"},{"offset":0.2734,"color":"#c8561a00"},
{"offset":0.2813,"color":"#c8561a00"},{"offset":0.2813,"color":"#c8561acc"},{"offset":0.2969,"color":"#c8561a00"},
{"offset":0.3047,"color":"#c8561a00"},{"offset":0.3047,"color":"#c8561acc"},{"offset":0.3203,"color":"#c8561a00"},
{"offset":0.3281,"color":"#c8561a00"},{"offset":0.3281,"color":"#c8561acc"},{"offset":0.3438,"color":"#c8561a00"},
{"offset":0.3516,"color":"#c8561a00"},{"offset":0.3516,"color":"#c8561acc"},{"offset":0.3672,"color":"#c8561a00"},
{"offset":0.375,"color":"#c8561a00"},{"offset":0.375,"color":"#c8561acc"},{"offset":0.3906,"color":"#c8561a00"},
{"offset":0.3984,"color":"#c8561a00"},{"offset":0.3984,"color":"#c8561acc"},{"offset":0.4141,"color":"#c8561a00"},
{"offset":0.4219,"color":"#c8561a00"},{"offset":0.4219,"color":"#c8561acc"},{"offset":0.4375,"color":"#c8561a00"},
{"offset":0.4453,"color":"#c8561a00"},{"offset":0.4453,"color":"#c8561acc"},{"offset":0.4609,"color":"#c8561a00"},
{"offset":0.4688,"color":"#c8561a00"},{"offset":0.4688,"color":"#c8561acc"},{"offset":0.4844,"color":"#c8561a00"},
{"offset":0.4922,"color":"#c8561a00"},{"offset":0.4922,"color":"#c8561acc"},{"offset":0.5078,"color":"#c8561a00"},
{"offset":0.5156,"color":"#c8561a00"},{"offset":0.5156,"color":"#c8561acc"},{"offset":0.5313,"color":"#c8561a00"},
{"offset":0.5391,"color":"#c8561a00"},{"offset":0.5391,"color":"#c8561acc"},{"offset":0.5547,"color":"#c8561a00"},
{"offset":0.5625,"color":"#c8561a00"},{"offset":0.5625,"color":"#c8561acc"},{"offset":0.5781,"color":"#c8561a00"},
{"offset":0.5859,"color":"#c8561a00"},{"offset":0.5859,"color":"#c8561acc"},{"offset":0.6016,"color":"#c8561a00"},
{"offset":0.6094,"color":"#c8561a00"},{"offset":0.6094,"color":"#c8561acc"},{"offset":0.625,"color":"#c8561a00"},
{"offset":0.6328,"color":"#c8561a00"},{"offset":0.6328,"color":"#c8561acc"},{"offset":0.6484,"color":"#c8561a00"},
{"offset":0.6563,"color":"#c8561a00"},{"offset":0.6563,"color":"#c8561acc"},{"offset":0.6719,"color":"#c8561a00"},
{"offset":0.6797,"color":"#c8561a00"},{"offset":0.6797,"color":"#c8561acc"},{"offset":0.6953,"color":"#c8561a00"},
{"offset":0.7031,"color":"#c8561a00"},{"offset":0.7031,"color":"#c8561acc"},{"offset":0.7188,"color":"#c8561a00"},
{"offset":0.7266,"color":"#c8561a00"},{"offset":0.7266,"color":"#c8561acc"},{"offset":0.7422,"color":"#c8561a00"},
{"offset":0.75,"color":"#c8561a00"},{"offset":0.75,"color":"#c8561acc"},{"offset":0.7656,"color":"#c8561a00"},
{"offset":0.7734,"color":"#c8561a00"},{"offset":0.7734,"color":"#c8561acc"},{"offset":0.7891,"color":"#c8561a00"},
{"offset":0.7969,"color":"#c8561a00"},{"offset":0.7969,"color":"#c8561acc"},{"offset":0.8125,"color":"#c8561a00"},
{"offset":0.8203,"color":"#c8561a00"},{"offset":0.8203,"color":"#c8561acc"},{"offset":0.8359,"color":"#c8561a00"},
{"offset":0.8438,"color":"#c8561a00"},{"offset":0.8438,"color":"#c8561acc"},{"offset":0.8594,"color":"#c8561a00"},
{"offset":0.8672,"color":"#c8561a00"},{"offset":0.8672,"color":"#c8561acc"},{"offset":0.8828,"color":"#c8561a00"},
{"offset":0.8906,"color":"#c8561a00"},{"offset":0.8906,"color":"#c8561acc"},{"offset":0.9063,"color":"#c8561a00"},
{"offset":0.9141,"color":"#c8561a00"},{"offset":0.9141,"color":"#c8561acc"},{"offset":0.9297,"color":"#c8561a00"},
{"offset":0.9375,"color":"#c8561a00"},{"offset":0.9375,"color":"#c8561acc"},{"offset":0.9531,"color":"#c8561a00"},
{"offset":0.9609,"color":"#c8561a00"},{"offset":0.9609,"color":"#c8561acc"},{"offset":0.9766,"color":"#c8561a00"}
   ]}},
 "encoding": {"x": {"field": "m", "type": "quantitative", "axis": null}, "y": {"field": "v", "type": "quantitative", "axis": null}}},
{"data": {"name": "qq"},
 "mark": {"type": "line", "interpolate": "step-after", "strokeWidth": 2, "clip": true},
 "encoding": {
  "x": {"field": "m", "type": "quantitative", "axis": null},
  "y": {"field": "v", "type": "quantitative", "axis": null},
  "color": {"datum": "qq\u0304 initial state", "type": "nominal", "scale": {"domain": ["qq\u0304 initial state", "gg initial state"], "range": ["#000000", "#c8561a"]},
    "legend": {"orient": "none", "legendX": 205, "legendY": 11, "title": null, "labelFont": "Liberation Sans", "labelFontSize": 14, "labelColor": "#000", "symbolSize": 170, "symbolStrokeWidth": 1.2, "rowPadding": 0, "labelOffset": 6,
      "encode": {"symbols": {"update": {"shape": {"signal": "datum.value === 'gg initial state' ? 'M-1,0H1M-0.9,0.6L-0.3,-0.6M-0.4,0.6L0.2,-0.6M0.1,0.6L0.7,-0.6' : 'M-1,0H1M-0.9,-0.6L-0.3,0.6M-0.4,-0.6L0.2,0.6M0.1,-0.6L0.7,0.6'"}}}}}}
 }},
{"data": {"name": "gg"},
 "mark": {"type": "line", "interpolate": "step-after", "strokeWidth": 2, "clip": true},
 "encoding": {
  "x": {"field": "m", "type": "quantitative", "axis": null},
  "y": {"field": "v", "type": "quantitative", "axis": null},
  "color": {"datum": "gg initial state", "type": "nominal"}
 }}
],
"resolve": {"axis": {"x": "independent", "y": "independent"}}
},
{
"width": 333, "height": 68,
"layer": [
{"data": {"name": "ratio"},
 "mark": {"type": "line", "interpolate": "step-after", "color": "#000000", "strokeWidth": 2, "clip": true},
 "encoding": {
  "x": {"field": "m", "type": "quantitative", "scale": {"domain": [0, 8000], "nice": false, "zero": false},
        "axis": {"orient": "bottom", "values": [0,500,1000,1500,2000,2500,3000,3500,4000,4500,5000,5500,6000,6500,7000,7500,8000], "format": "d", "labelExpr": "datum.value % 2000 === 0 && datum.value < 8000 ? datum.label : ''", "tickSize": -5, "labelPadding": 0, "labelFontSize": 15, "labelOverlap": false, "grid": true, "gridOpacity": {"condition": {"test": "datum.value % 2000 === 0", "value": 1}, "value": 0}, "title": "mass [GeV/c\u00b2]", "titleAnchor": "end", "titlePadding": 18, "titleFontSize": 15}},
  "y": {"field": "r", "type": "quantitative", "scale": {"type": "log", "domain": [1.3e-5, 10.5], "nice": false, "clamp": true},
        "axis": {"orient": "left", "values": [10,1,0.1,0.01,0.001,0.0001], "tickSize": -5, "labelPadding": 11, "labelFontSize": 11.5, "labelOverlap": false, "grid": true,
          "labelExpr": "round(log(datum.value)/LN10) == 1 ? '10' : round(log(datum.value)/LN10) == 0 ? '1' : round(log(datum.value)/LN10) == -2 ? '10\u207b\u00b2' : round(log(datum.value)/LN10) == -4 ? '10\u207b\u2074' : ''",
          "minExtent": 42, "maxExtent": 42, "title": "ratio", "titleAnchor": "end", "titlePadding": 8}}
 }},
{"data": {"name": "ratio"},
 "mark": {"type": "line", "interpolate": "step-after", "opacity": 0},
 "encoding": {
  "x": {"field": "m", "type": "quantitative", "axis": {"orient": "top", "values": [0,500,1000,1500,2000,2500,3000,3500,4000,4500,5000,5500,6000,6500,7000,7500,8000], "labels": false, "tickSize": -5, "grid": false, "title": null}},
  "y": {"field": "r", "type": "quantitative", "axis": {"orient": "right", "values": [10,1,0.1,0.01,0.001,0.0001], "labels": false, "tickSize": -5, "grid": false, "title": null}}
 }}
],
"resolve": {"axis": {"x": "independent", "y": "independent"}}
}
],
"resolve": {"scale": {"color": "independent"}, "legend": {"color": "independent"}},
"config": {
 "font": "Liberation Sans",
 "view": {"stroke": "#000000", "strokeWidth": 1},
 "axis": {"domain": false, "labelFont": "Liberation Sans", "labelFontSize": 14, "labelColor": "#000", "tickColor": "#000", "tickWidth": 1, "gridColor": "#d9d9d9", "gridWidth": 1, "titleFont": "Liberation Sans", "titleFontSize": 16, "titleFontWeight": "normal", "titleColor": "#000"},
 "title": {"font": "Liberation Sans", "fontWeight": "normal", "fontSize": 13, "color": "#000"}
}
}
